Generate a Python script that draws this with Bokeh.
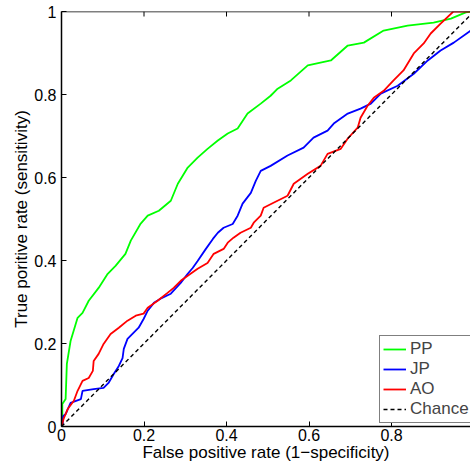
import math
from bokeh.plotting import figure
from bokeh.models import (FixedTicker, CustomJSTickFormatter, Legend,
                          LegendItem, Range1d, Span)
from bokeh.embed import file_html
from bokeh.resources import INLINE

# ---- data ----
pp_fpr = [0.0, 0.002, 0.002, 0.010, 0.013, 0.022, 0.039, 0.051, 0.066, 0.090, 0.112,
          0.131, 0.155, 0.168, 0.192, 0.209, 0.236, 0.265, 0.282, 0.306, 0.330, 0.354,
          0.379, 0.403, 0.427, 0.451, 0.483, 0.507, 0.524, 0.556, 0.597, 0.653, 0.694,
          0.733, 0.781, 0.839, 0.902, 0.944, 0.980, 1.0]
pp_tpr = [0.0, 0.025, 0.054, 0.066, 0.151, 0.206, 0.262, 0.274, 0.303, 0.334, 0.368,
          0.387, 0.416, 0.448, 0.489, 0.508, 0.520, 0.544, 0.585, 0.624, 0.648, 0.669,
          0.689, 0.706, 0.718, 0.754, 0.778, 0.797, 0.814, 0.834, 0.870, 0.882, 0.918,
          0.925, 0.954, 0.966, 0.973, 0.983, 0.998, 1.0]

jp_fpr = [0.0, 0.003, 0.004, 0.010, 0.022, 0.047, 0.051, 0.078, 0.102, 0.114, 0.127,
          0.139, 0.148, 0.151, 0.160, 0.172, 0.187, 0.199, 0.209, 0.224, 0.240, 0.265,
          0.289, 0.306, 0.318, 0.330, 0.350, 0.367, 0.379, 0.393, 0.415, 0.427, 0.439,
          0.459, 0.471, 0.483, 0.507, 0.548, 0.587, 0.611, 0.645, 0.660, 0.694, 0.725,
          0.750, 0.774, 0.815, 0.854, 0.888, 0.919, 0.951, 0.992, 1.0, 1.0]
jp_tpr = [0.0, 0.006, 0.025, 0.030, 0.057, 0.066, 0.086, 0.090, 0.093, 0.105, 0.127,
          0.146, 0.165, 0.187, 0.211, 0.223, 0.238, 0.259, 0.279, 0.298, 0.308, 0.320,
          0.346, 0.368, 0.382, 0.399, 0.428, 0.452, 0.467, 0.479, 0.488, 0.508, 0.537,
          0.563, 0.592, 0.616, 0.628, 0.653, 0.672, 0.696, 0.713, 0.730, 0.754, 0.766,
          0.778, 0.802, 0.821, 0.850, 0.882, 0.906, 0.925, 0.954, 0.958, 1.0]

ao_fpr = [0.0, 0.005, 0.015, 0.030, 0.039, 0.051, 0.066, 0.076, 0.078, 0.090, 0.102,
          0.119, 0.139, 0.160, 0.180, 0.199, 0.209, 0.233, 0.257, 0.272, 0.289, 0.306,
          0.330, 0.354, 0.369, 0.393, 0.403, 0.417, 0.434, 0.459, 0.466, 0.483, 0.490,
          0.514, 0.548, 0.563, 0.597, 0.628, 0.645, 0.677, 0.694, 0.718, 0.725, 0.742,
          0.757, 0.781, 0.805, 0.829, 0.854, 0.878, 0.895, 0.919, 0.950, 1.0]
ao_tpr = [0.0, 0.018, 0.042, 0.062, 0.086, 0.110, 0.117, 0.134, 0.158, 0.175, 0.199,
          0.223, 0.238, 0.255, 0.267, 0.272, 0.286, 0.303, 0.322, 0.334, 0.351, 0.363,
          0.380, 0.394, 0.416, 0.428, 0.443, 0.455, 0.467, 0.479, 0.491, 0.508, 0.527,
          0.539, 0.556, 0.585, 0.609, 0.628, 0.657, 0.669, 0.694, 0.720, 0.744, 0.773,
          0.792, 0.809, 0.834, 0.858, 0.899, 0.923, 0.947, 0.971, 1.0, 1.0]

chance_x = [0.0, 1.0]
chance_y = [0.0, 1.0]

tick_values = [0, 0.2, 0.4, 0.6, 0.8, 1]
series_labels = ["PP", "JP", "AO", "Chance"]
x_label = "False positive rate (1\u2212specificity)"
y_label = "True poritive rate (sensitivity)"

FONT = "Liberation Sans"

p = figure(width=470, height=468, output_backend="svg", toolbar_location=None,
           x_range=Range1d(0, 0.9915), y_range=Range1d(0, 1),
           min_border_left=61, min_border_right=0, min_border_top=11,
           min_border_bottom=42, background_fill_color="white",
           border_fill_color="white", outline_line_color=None)
p.grid.visible = False

fmt = CustomJSTickFormatter(code="return String(Math.round(tick*10)/10);")

for ax in (p.xaxis[0], p.yaxis[0]):
    ax.ticker = FixedTicker(ticks=tick_values)
    ax.formatter = fmt
    ax.major_tick_in = 5
    ax.major_tick_out = 0
    ax.minor_tick_line_color = None
    ax.axis_line_color = "black"
    ax.axis_line_width = 1.5
    ax.major_tick_line_color = "black"
    ax.major_tick_line_width = 1
    ax.major_label_text_font = FONT
    ax.major_label_text_font_size = "16px"
    ax.major_label_text_color = "black"
    ax.axis_label_text_font = FONT
    ax.axis_label_text_font_size = "17px"
    ax.axis_label_text_font_style = "normal"
    ax.axis_label_text_color = "black"

p.xaxis[0].axis_label = x_label
p.yaxis[0].axis_label = y_label
p.xaxis[0].major_label_standoff = 2
p.xaxis[0].axis_label_standoff = -1
p.yaxis[0].major_label_standoff = 5
p.yaxis[0].axis_label_standoff = 0

# top box edge with inward ticks
p.add_layout(Span(location=1, dimension="width", line_color="black", line_width=1.5))
p.ray(x=tick_values, y=[1] * len(tick_values), length=5, length_units="screen",
      angle=-math.pi / 2, line_color="black", line_width=1)

r_pp = p.line(pp_fpr, pp_tpr, line_color="#00ff00", line_width=1.8)
r_jp = p.line(jp_fpr, jp_tpr, line_color="#0000ff", line_width=1.8)
r_ao = p.line(ao_fpr, ao_tpr, line_color="#ff0000", line_width=1.8)
r_ch = p.line(chance_x, chance_y, line_color="black", line_width=1.4, line_dash="4 3")

legend = Legend(items=[LegendItem(label=series_labels[0], renderers=[r_pp]),
                       LegendItem(label=series_labels[1], renderers=[r_jp]),
                       LegendItem(label=series_labels[2], renderers=[r_ao]),
                       LegendItem(label=series_labels[3], renderers=[r_ch])],
                location=(318, 3), margin=0, padding=3, spacing=0,
                label_height=20, glyph_height=20, glyph_width=23,
                label_standoff=4, label_width=80,
                label_text_font=FONT, label_text_font_size="17px",
                border_line_color="black", border_line_width=1,
                background_fill_color="white", background_fill_alpha=1)
p.add_layout(legend, "center")

open("out.html", "w").write(file_html(p, INLINE))
